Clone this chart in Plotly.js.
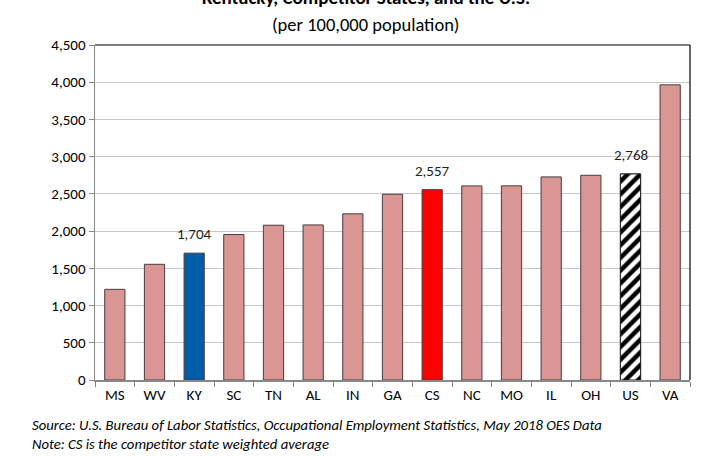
<!DOCTYPE html>
<html>
<head>
<meta charset="utf-8">
<script src="https://cdn.plot.ly/plotly-3.0.1.min.js"></script>
<style>html,body{margin:0;padding:0;background:#fff;}#chart{width:710px;height:456px;}</style>
</head>
<body>
<div id="chart"></div>
<script>
var states = ["MS","WV","KY","SC","TN","AL","IN","GA","CS","NC","MO","IL","OH","US","VA"];
var values = [1218,1554,1704,1954,2079,2083,2232,2495,2557,2607,2608,2728,2750,2768,3965];
var labeled = ["KY","CS","US"];
var hatched = "US";
var yTicks = [0,500,1000,1500,2000,2500,3000,3500,4000,4500];

var FONT = "Carlito, Calibri, 'Liberation Sans', Arial, sans-serif";

var colors = states.map(function(s){
  if (s === "KY") return "#005DAA";
  if (s === "CS") return "#FF0000";
  if (s === "US") return "rgba(0,0,0,0)";
  return "#D99694";
});
var hatchIdx = states.indexOf(hatched);

var mainTrace = {
  type: "bar",
  x: states,
  y: values,
  marker: {color: colors, line: {color: "#4a3c3c", width: 1}},
  hoverinfo: "x+y"
};

var hatchTrace = {
  type: "bar",
  x: [states[hatchIdx]],
  y: [values[hatchIdx]],
  marker: {
    color: "#FFFFFF",
    line: {color: "#222", width: 1},
    pattern: {shape: "/", fgcolor: "#000000", bgcolor: "#FFFFFF", size: 9, solidity: 0.5, fillmode: "replace"}
  },
  hoverinfo: "x+y"
};

var labelAnns = labeled.map(function(s){
  var i = states.indexOf(s);
  return {text: values[i].toLocaleString("en-US"), x: s, y: values[i], xref: "x", yref: "y",
          xanchor: "center", yanchor: "bottom", yshift: 8, showarrow: false,
          font: {family: FONT, size: 15, color: "#222"}};
});

var layout = {
  width: 710, height: 456,
  margin: {l: 95, r: 20, t: 45, b: 76},
  paper_bgcolor: "#fff", plot_bgcolor: "#fff",
  bargap: 0.49,
  barmode: "overlay",
  showlegend: false,
  font: {family: FONT, size: 15, color: "#000"},
  xaxis: {
    type: "category",
    categoryorder: "array", categoryarray: states,
    tickson: "boundaries",
    ticks: "outside", ticklen: 5, tickcolor: "#888",
    showline: true, linecolor: "#888", linewidth: 1.5,
    showgrid: false,
    tickfont: {family: FONT, size: 15, color: "#000"},
    fixedrange: true
  },
  yaxis: {
    range: [0, 4500],
    tickvals: yTicks,
    tickformat: ",d",
    ticks: "outside", ticklen: 5, tickcolor: "#888",
    showline: true, linecolor: "#888", linewidth: 1.5,
    showgrid: true, gridcolor: "#c8c8c8", gridwidth: 1.2,
    zeroline: false,
    tickfont: {family: FONT, size: 15, color: "#000"},
    fixedrange: true
  },
  shapes: [
    {type: "line", xref: "paper", yref: "paper", x0: 0, x1: 1, y0: 1, y1: 1, line: {color: "#000", width: 1.2}},
    {type: "line", xref: "paper", yref: "paper", x0: 1, x1: 1, y0: 0, y1: 1, line: {color: "#000", width: 1.2}}
  ],
  annotations: labelAnns.concat([
    {text: "<b>Kentucky, Competitor States, and the U.S.</b>", xref: "paper", yref: "paper",
     x: 0.455, y: 1.1015, xanchor: "center", yanchor: "bottom", showarrow: false,
     font: {family: FONT, size: 19, color: "#000"}},
    {text: "(per 100,000 population)", xref: "paper", yref: "paper",
     x: 0.455, y: 1.021, xanchor: "center", yanchor: "bottom", showarrow: false,
     font: {family: FONT, size: 18.5, color: "#000"}},
    {text: "<i>Source: U.S. Bureau of Labor Statistics, Occupational Employment Statistics, May 2018 OES Data</i>", xref: "paper", yref: "paper",
     x: -0.11, y: -0.101, xanchor: "left", yanchor: "top", showarrow: false, align: "left",
     font: {family: FONT, size: 14.7, color: "#000"}},
    {text: "<i>Note: CS is the competitor state weighted average</i>", xref: "paper", yref: "paper",
     x: -0.11, y: -0.158, xanchor: "left", yanchor: "top", showarrow: false, align: "left",
     font: {family: FONT, size: 14.7, color: "#000"}}
  ])
};

Plotly.newPlot("chart", [mainTrace, hatchTrace], layout, {displayModeBar: false, staticPlot: true});
</script>
</body>
</html>
